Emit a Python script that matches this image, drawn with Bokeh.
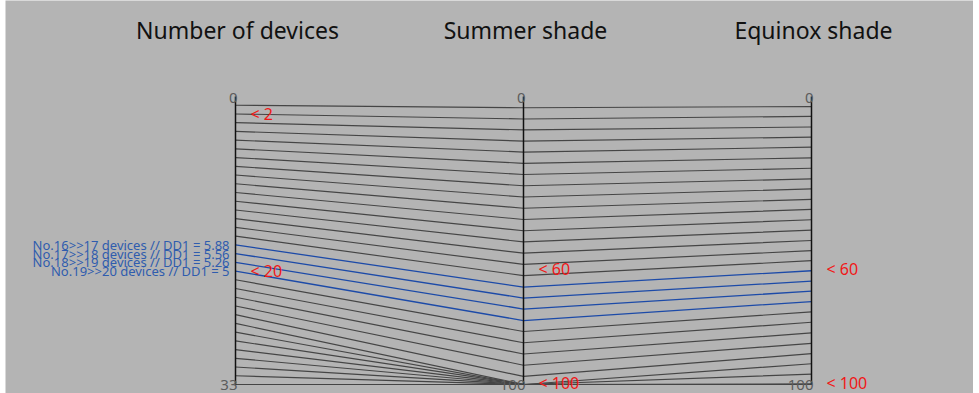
from bokeh.plotting import figure
from bokeh.models import Range1d
from bokeh.core.properties import value
from bokeh.embed import file_html
from bokeh.resources import INLINE

# ---- data ----
axis_titles = ["Number of devices", "Summer shade", "Equinox shade"]
axis_max = [33, 100, 100]
devices = [1, 2, 3, 4, 5, 6, 7, 8, 9, 10, 11, 12, 13, 14, 15, 16, 17,
           18, 19, 20, 21, 22, 23, 24, 25, 26, 27, 28, 29, 30, 31, 32, 33]
summer = [3.9, 7.8, 11.6, 15.5, 19.3, 23.2, 27.1, 31.0, 34.9, 38.8, 42.7,
          46.6, 50.5, 54.4, 58.3, 62.2, 66.2, 70.0, 73.8, 77.8, 81.6, 85.5,
          89.4, 93.3, 97.2, 100, 100, 100, 100, 100, 100, 100, 100]
equinox = [3.5, 6.9, 10.6, 14.1, 17.6, 21.3, 24.9, 28.6, 32.1, 35.7, 39.2,
           42.8, 46.4, 50.0, 53.5, 57.0, 60.5, 64.1, 67.6, 71.2, 74.8, 78.4,
           82.1, 85.7, 89.3, 92.8, 96.4, 99.8, 100, 100, 100, 100, 100]
highlight_idx = [16, 17, 18, 19]
highlight_labels = ["No.16>>17 devices // DD1 = 5.88",
                    "No.17>>18 devices // DD1 = 5.56",
                    "No.18>>19 devices // DD1 = 5.26",
                    "No.19>>20 devices // DD1 = 5"]
marker_axis = [0, 0, 1, 1, 2, 2]
marker_vals = [2, 20, 60, 100, 60, 100]
marker_text = ["< 2", "< 20", "< 60", "< 100", "< 60", "< 100"]

BG = "#b4b4b4"
FONT = "Noto Sans"

p = figure(width=968, height=393, output_backend="svg", toolbar_location=None,
           x_range=Range1d(-230 / 288, 738 / 288),
           y_range=Range1d(297 / 288, -96 / 288),
           x_axis_location=None, y_axis_location=None,
           min_border=0, background_fill_color=BG, border_fill_color=BG,
           outline_line_color=None)
p.grid.visible = False
p.margin = (0, 0, 0, 5)

cols = [devices, summer, equinox]
n = len(devices)
xs_all, ys_all = [], []
for i in range(n):
    xs_all.append([0, 1, 2])
    ys_all.append([cols[k][i] / axis_max[k] for k in range(3)])

grey_x = [xs_all[i] for i in range(n) if i not in highlight_idx]
grey_y = [ys_all[i] for i in range(n) if i not in highlight_idx]
blue_x = [xs_all[i] for i in highlight_idx]
blue_y = [ys_all[i] for i in highlight_idx]

p.multi_line(grey_x, grey_y, line_color="#454545", line_width=1.15)
p.multi_line(blue_x, blue_y, line_color="#1c4aa8", line_width=1.3)

# axes
p.segment(x0=[0, 1, 2], y0=[0, 0, 0], x1=[0, 1, 2], y1=[1, 1, 1],
          line_color="#111111", line_width=1.5)

# tick labels (0 at top, max at bottom)
p.text(x=[0, 1, 2], y=[0, 0, 0], text=["0", "0", "0"],
       text_align="right", text_baseline="alphabetic",
       text_font=value(FONT), text_font_size=value("15px"),
       text_color="#5c5c5c", x_offset=2, y_offset=1)
p.text(x=[0, 1, 2], y=[1, 1, 1], text=[str(m) for m in axis_max],
       text_align="right", text_baseline="alphabetic",
       text_font=value(FONT), text_font_size=value("15px"),
       text_color="#5c5c5c", x_offset=2, y_offset=0)

# titles
p.text(x=[0, 1, 2], y=[-67 / 288] * 3, text=axis_titles,
       text_align="center", text_baseline="middle",
       text_font=value(FONT), text_font_size=value("23px"),
       text_color="#111111", x_offset=2)

# red markers
marker_y = [v / axis_max[a] for a, v in zip(marker_axis, marker_vals)]
marker_dy = [-2 if v == axis_max[a] else 0
             for a, v in zip(marker_axis, marker_vals)]
p.text(x=marker_axis, y=marker_y, text=marker_text,
       text_align="left", text_baseline="middle",
       text_font=value(FONT), text_font_size=value("16px"),
       text_color="#f01818", x_offset=15, y_offset=marker_dy)

# highlighted labels
p.text(x=[0] * len(highlight_idx), y=[ys_all[i][0] for i in highlight_idx],
       text=highlight_labels, text_align="right", text_baseline="alphabetic",
       text_font=value(FONT), text_font_size=value("13px"),
       text_color="#2f5cae", x_offset=-6, y_offset=0)

open("out.html", "w").write(file_html(p, INLINE))
